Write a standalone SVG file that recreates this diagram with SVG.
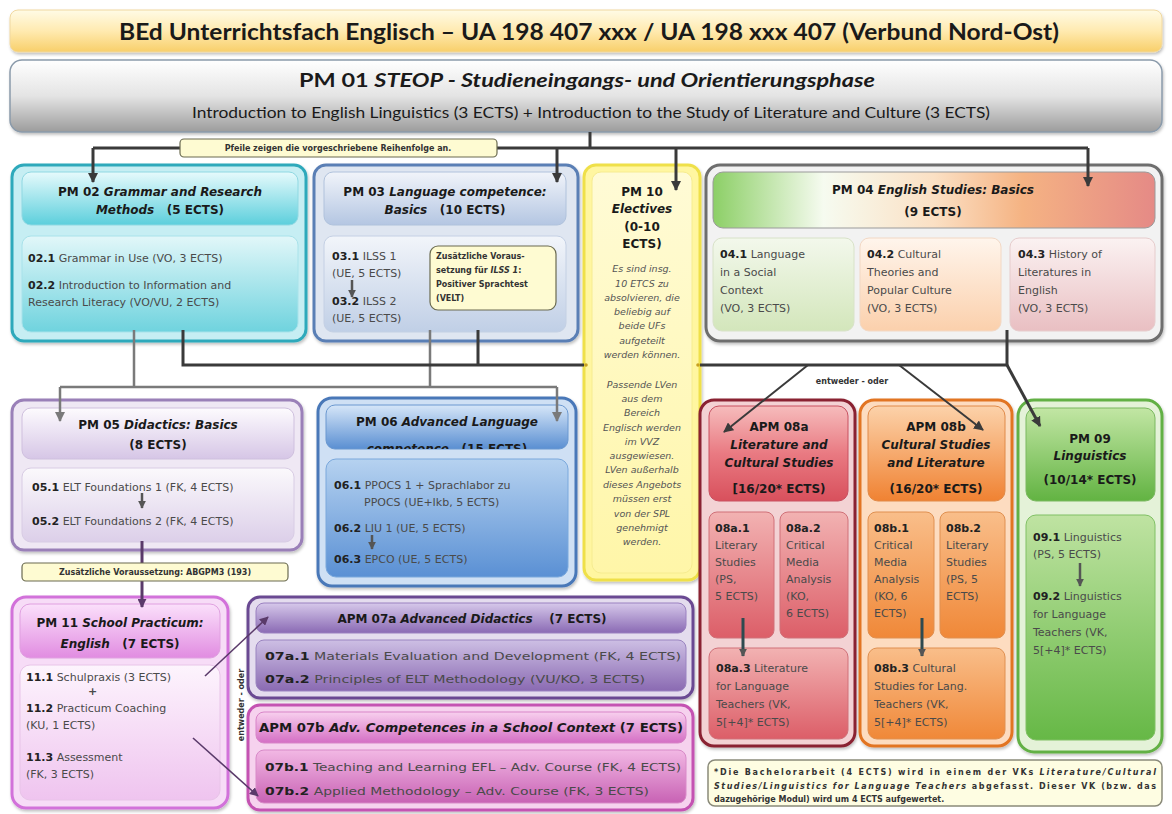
<svg xmlns="http://www.w3.org/2000/svg" width="1172" height="814" viewBox="0 0 1172 814">
<style>
.h{font-family:"DejaVu Sans",Verdana,sans-serif;font-weight:bold;font-size:12px;fill:#1a1a1a;text-anchor:middle;white-space:pre}
.t{font-family:"DejaVu Sans",Verdana,sans-serif;font-size:11px;fill:#4a4a4a}
.b{font-weight:bold;fill:#222}
.i{font-style:italic}
.n{font-family:"DejaVu Sans",Verdana,sans-serif;font-weight:bold;font-size:8px;fill:#333}
.el{font-family:"DejaVu Sans",Verdana,sans-serif;font-style:italic;font-size:9.5px;fill:#555;text-anchor:middle}
.cal{font-family:Lato,"Liberation Sans",sans-serif;fill:#1a1a1a;text-anchor:middle}
.dk{stroke:#3a3a3a;stroke-width:3;fill:none}
.gr{stroke:#7a7a7a;stroke-width:2.5;fill:none}
.sm{stroke:#555;stroke-width:2.5;fill:none}
.pl{stroke:#5a3a6a;stroke-width:1.6;fill:none}
</style>
<defs>
<filter id="sh" x="-5%" y="-5%" width="110%" height="115%"><feDropShadow dx="1" dy="2" stdDeviation="1.5" flood-color="#000" flood-opacity="0.25"/></filter>
<marker id="ad" viewBox="0 0 10 10" refX="9" refY="5" markerWidth="10" markerHeight="10" markerUnits="userSpaceOnUse" orient="auto"><path d="M0,0 L10,5 L0,10 z" fill="#3a3a3a"/></marker>
<marker id="ag" viewBox="0 0 10 10" refX="9" refY="5" markerWidth="10" markerHeight="10" markerUnits="userSpaceOnUse" orient="auto"><path d="M0,0 L10,5 L0,10 z" fill="#7a7a7a"/></marker>
<marker id="as" viewBox="0 0 10 10" refX="9" refY="5" markerWidth="8" markerHeight="8" markerUnits="userSpaceOnUse" orient="auto"><path d="M0,0 L10,5 L0,10 z" fill="#555"/></marker>
<marker id="ap" viewBox="0 0 10 10" refX="9" refY="5" markerWidth="9" markerHeight="9" markerUnits="userSpaceOnUse" orient="auto"><path d="M0,0 L10,5 L0,10 z" fill="#5a3a6a"/></marker>
<linearGradient id="gTitle" x1="0" y1="0" x2="0" y2="1"><stop offset="0" stop-color="#fffbe6"/><stop offset="0.5" stop-color="#ffeab0"/><stop offset="1" stop-color="#f8cf6a"/></linearGradient>
<linearGradient id="gPM01" x1="0" y1="0" x2="0" y2="1"><stop offset="0" stop-color="#ffffff"/><stop offset="0.5" stop-color="#e4e4e4"/><stop offset="1" stop-color="#9c9c9c"/></linearGradient>
<linearGradient id="gCyanH" x1="0" y1="0" x2="0" y2="1"><stop offset="0" stop-color="#e6fafc"/><stop offset="1" stop-color="#5ccfdc"/></linearGradient>
<linearGradient id="gCyanB" x1="0" y1="0" x2="0" y2="1"><stop offset="0" stop-color="#e2f7f9"/><stop offset="1" stop-color="#6fd3de"/></linearGradient>
<linearGradient id="gBlueH" x1="0" y1="0" x2="0" y2="1"><stop offset="0" stop-color="#f1f4fa"/><stop offset="1" stop-color="#b4c6e2"/></linearGradient>
<linearGradient id="gBlueB" x1="0" y1="0" x2="0" y2="1"><stop offset="0" stop-color="#f2f5fa"/><stop offset="1" stop-color="#c0cfe6"/></linearGradient>
<linearGradient id="gYel" x1="0" y1="0" x2="0" y2="1"><stop offset="0" stop-color="#fffbd6"/><stop offset="1" stop-color="#fff6a8"/></linearGradient>
<linearGradient id="gPM04H" x1="0" y1="0" x2="1" y2="0"><stop offset="0" stop-color="#8ccf66"/><stop offset="0.25" stop-color="#f6fbf0"/><stop offset="0.5" stop-color="#fbe0c4"/><stop offset="0.7" stop-color="#f5b383"/><stop offset="1" stop-color="#e58a86"/></linearGradient>
<linearGradient id="g041" x1="0" y1="0" x2="0" y2="1"><stop offset="0" stop-color="#f3f8ec"/><stop offset="1" stop-color="#d3e6bb"/></linearGradient>
<linearGradient id="g042" x1="0" y1="0" x2="0" y2="1"><stop offset="0" stop-color="#fff5ec"/><stop offset="1" stop-color="#fbd0ac"/></linearGradient>
<linearGradient id="g043" x1="0" y1="0" x2="0" y2="1"><stop offset="0" stop-color="#fbf2f2"/><stop offset="1" stop-color="#e9bfc2"/></linearGradient>
<linearGradient id="gLavH" x1="0" y1="0" x2="0" y2="1"><stop offset="0" stop-color="#fdfbfe"/><stop offset="1" stop-color="#d6c6e6"/></linearGradient>
<linearGradient id="gLavB" x1="0" y1="0" x2="0" y2="1"><stop offset="0" stop-color="#fbf9fc"/><stop offset="1" stop-color="#dccfe9"/></linearGradient>
<linearGradient id="gB6H" x1="0" y1="0" x2="0" y2="1"><stop offset="0" stop-color="#d6e6f8"/><stop offset="1" stop-color="#5a8fd2"/></linearGradient>
<linearGradient id="gB6B" x1="0" y1="0" x2="0" y2="1"><stop offset="0" stop-color="#b6d2f0"/><stop offset="1" stop-color="#5a90d4"/></linearGradient>
<linearGradient id="gRedH" x1="0" y1="0" x2="0" y2="1"><stop offset="0" stop-color="#f6bcbc"/><stop offset="0.5" stop-color="#e97a82"/><stop offset="1" stop-color="#d8505c"/></linearGradient>
<linearGradient id="gRedB" x1="0" y1="0" x2="0" y2="1"><stop offset="0" stop-color="#f2b2b2"/><stop offset="1" stop-color="#dc5e68"/></linearGradient>
<linearGradient id="gOrH" x1="0" y1="0" x2="0" y2="1"><stop offset="0" stop-color="#fcd2aa"/><stop offset="1" stop-color="#f08232"/></linearGradient>
<linearGradient id="gOrB" x1="0" y1="0" x2="0" y2="1"><stop offset="0" stop-color="#f9be8a"/><stop offset="1" stop-color="#f08838"/></linearGradient>
<linearGradient id="gGrH" x1="0" y1="0" x2="0" y2="1"><stop offset="0" stop-color="#c2e6a4"/><stop offset="1" stop-color="#62b342"/></linearGradient>
<linearGradient id="gGrB" x1="0" y1="0" x2="0" y2="1"><stop offset="0" stop-color="#bfe3a2"/><stop offset="1" stop-color="#66b846"/></linearGradient>
<linearGradient id="gPkH" x1="0" y1="0" x2="0" y2="1"><stop offset="0" stop-color="#fbe0fb"/><stop offset="1" stop-color="#e18ce1"/></linearGradient>
<linearGradient id="gPkB" x1="0" y1="0" x2="0" y2="1"><stop offset="0" stop-color="#fdf4fd"/><stop offset="1" stop-color="#efc4ef"/></linearGradient>
<linearGradient id="gViH" x1="0" y1="0" x2="0" y2="1"><stop offset="0" stop-color="#d6c8ea"/><stop offset="1" stop-color="#8a6ab4"/></linearGradient>
<linearGradient id="gViB" x1="0" y1="0" x2="0" y2="1"><stop offset="0" stop-color="#cdbfe4"/><stop offset="1" stop-color="#8a6ab2"/></linearGradient>
<linearGradient id="gMgH" x1="0" y1="0" x2="0" y2="1"><stop offset="0" stop-color="#f8d0ee"/><stop offset="1" stop-color="#d46ec4"/></linearGradient>
<linearGradient id="gMgB" x1="0" y1="0" x2="0" y2="1"><stop offset="0" stop-color="#f2b8e4"/><stop offset="1" stop-color="#c862b4"/></linearGradient>
<clipPath id="c06"><rect x="326" y="405" width="242" height="44"/></clipPath>
</defs>

<rect width="1172" height="814" fill="#ffffff"/>

<g id="title">
<rect x="10" y="10" width="1152" height="42" rx="8" fill="url(#gTitle)" stroke="#f0d8a0" stroke-width="1" filter="url(#sh)"/>
<text class="cal" x="589" y="40" font-size="22" font-weight="bold" textLength="940" lengthAdjust="spacingAndGlyphs">BEd Unterrichtsfach Englisch – UA 198 407 xxx / UA 198 xxx 407 (Verbund Nord-Ost)</text>
</g>

<g id="pm01">
<rect x="10" y="60" width="1152" height="72" rx="12" fill="url(#gPM01)" stroke="#8a9aaa" stroke-width="1.5" filter="url(#sh)"/>
<text class="cal" x="587" y="87" font-size="18" font-weight="bold" textLength="576" lengthAdjust="spacingAndGlyphs">PM 01 <tspan font-style="italic">STEOP - Studieneingangs- und Orientierungsphase</tspan></text>
<text class="cal" x="591" y="118" font-size="14.5" fill="#333" textLength="798" lengthAdjust="spacingAndGlyphs">Introduction to English Linguistics (3 ECTS) + Introduction to the Study of Literature and Culture (3 ECTS)</text>
</g>

<g id="pm02">
<rect x="12" y="165" width="294" height="176" rx="12" fill="#c6eef3" stroke="#2fa9bb" stroke-width="3" filter="url(#sh)"/>
<rect x="22" y="172" width="276" height="53" rx="9" fill="url(#gCyanH)" stroke="#8fd8e2" stroke-width="1"/>
<text class="h" x="160" y="196">PM 02 <tspan class="i">Grammar and Research</tspan></text>
<text class="h" x="160" y="214" xml:space="preserve"><tspan class="i">Methods</tspan>   (5 ECTS)</text>
<rect x="22" y="236" width="276" height="96" rx="9" fill="url(#gCyanB)" stroke="#a8e2ea" stroke-width="1"/>
<text class="t" x="28" y="262"><tspan class="b">02.1</tspan> Grammar in Use (VO, 3 ECTS)</text>
<text class="t" x="28" y="289"><tspan class="b">02.2</tspan> Introduction to Information and</text>
<text class="t" x="28" y="306">Research Literacy (VO/VU, 2 ECTS)</text>
</g>

<g id="pm03">
<rect x="314" y="165" width="264" height="176" rx="12" fill="#dfe6f1" stroke="#5a7fb5" stroke-width="3" filter="url(#sh)"/>
<rect x="324" y="172" width="242" height="53" rx="9" fill="url(#gBlueH)" stroke="#b0c2dc" stroke-width="1"/>
<text class="h" x="445" y="196">PM 03 <tspan class="i">Language competence:</tspan></text>
<text class="h" x="445" y="214" xml:space="preserve"><tspan class="i">Basics</tspan>   (10 ECTS)</text>
<rect x="324" y="236" width="242" height="96" rx="9" fill="url(#gBlueB)" stroke="#c4d0e4" stroke-width="1"/>
<text class="t" x="332" y="260"><tspan class="b">03.1</tspan> ILSS 1</text>
<text class="t" x="332" y="277">(UE, 5 ECTS)</text>
<text class="t" x="332" y="305"><tspan class="b">03.2</tspan> ILSS 2</text>
<text class="t" x="332" y="322">(UE, 5 ECTS)</text>
<rect x="430" y="246" width="126" height="64" rx="8" fill="#fefbd2" stroke="#6a6a50" stroke-width="1.2"/>
<text class="n" x="436" y="259">Zusätzliche Voraus-</text>
<text class="n" x="436" y="273">setzung für <tspan class="i">ILSS 1</tspan>:</text>
<text class="n" x="436" y="287">Positiver Sprachtest</text>
<text class="n" x="436" y="301">(VELT)</text>
</g>

<g id="pm04">
<rect x="706" y="165" width="456" height="176" rx="14" fill="#f2f2f2" stroke="#6e6e6e" stroke-width="3" filter="url(#sh)"/>
<rect x="713" y="172" width="442" height="56" rx="10" fill="url(#gPM04H)" stroke="#9a9a9a" stroke-width="1"/>
<text class="h" x="933" y="194">PM 04 <tspan class="i">English Studies: Basics</tspan></text>
<text class="h" x="933" y="216">(9 ECTS)</text>
<rect x="713" y="238" width="141" height="93" rx="9" fill="url(#g041)" stroke="#d8e2c8" stroke-width="1"/>
<text class="t" x="720" y="258"><tspan class="b">04.1</tspan> Language</text>
<text class="t" x="720" y="276">in a Social</text>
<text class="t" x="720" y="294">Context</text>
<text class="t" x="720" y="312">(VO, 3 ECTS)</text>
<rect x="860" y="238" width="141" height="93" rx="9" fill="url(#g042)" stroke="#f2d8c4" stroke-width="1"/>
<text class="t" x="867" y="258"><tspan class="b">04.2</tspan> Cultural</text>
<text class="t" x="867" y="276">Theories and</text>
<text class="t" x="867" y="294">Popular Culture</text>
<text class="t" x="867" y="312">(VO, 3 ECTS)</text>
<rect x="1010" y="238" width="145" height="93" rx="9" fill="url(#g043)" stroke="#e6cccc" stroke-width="1"/>
<text class="t" x="1018" y="258"><tspan class="b">04.3</tspan> History of</text>
<text class="t" x="1018" y="276">Literatures in</text>
<text class="t" x="1018" y="294">English</text>
<text class="t" x="1018" y="312">(VO, 3 ECTS)</text>
</g>

<g id="pm05">
<rect x="12" y="400" width="290" height="150" rx="12" fill="#efe8f4" stroke="#9a80b8" stroke-width="3" filter="url(#sh)"/>
<rect x="22" y="408" width="272" height="51" rx="9" fill="url(#gLavH)" stroke="#cfc0de" stroke-width="1"/>
<text class="h" x="158" y="429">PM 05 <tspan class="i">Didactics: Basics</tspan></text>
<text class="h" x="158" y="449">(8 ECTS)</text>
<rect x="22" y="468" width="272" height="74" rx="9" fill="url(#gLavB)" stroke="#d8cce4" stroke-width="1"/>
<text class="t" x="32" y="491" font-size="11.5"><tspan class="b">05.1</tspan> ELT Foundations 1 (FK, 4 ECTS)</text>
<text class="t" x="32" y="525" font-size="11.5"><tspan class="b">05.2</tspan> ELT Foundations 2 (FK, 4 ECTS)</text>
</g>

<g id="pm06">
<rect x="318" y="398" width="258" height="188" rx="14" fill="#cfe0f4" stroke="#4a78b8" stroke-width="3" filter="url(#sh)"/>
<rect x="326" y="405" width="242" height="44" rx="9" fill="url(#gB6H)" stroke="#6a98d0" stroke-width="1"/>
<g clip-path="url(#c06)">
<text class="h" x="447" y="426">PM 06 <tspan class="i">Advanced Language</tspan></text>
<text class="h" x="447" y="453" xml:space="preserve"><tspan class="i">competence</tspan>   (15 ECTS)</text>
</g>
<rect x="326" y="459" width="242" height="118" rx="10" fill="url(#gB6B)" stroke="#7aa8dc" stroke-width="1"/>
<text class="t" x="334" y="489" fill="#3a4a60"><tspan class="b">06.1</tspan> PPOCS 1 + Sprachlabor zu</text>
<text class="t" x="364" y="506" fill="#3a4a60">PPOCS (UE+Ikb, 5 ECTS)</text>
<text class="t" x="334" y="532" fill="#3a4a60"><tspan class="b">06.2</tspan> LIU 1 (UE, 5 ECTS)</text>
<text class="t" x="334" y="563" fill="#3a4a60"><tspan class="b">06.3</tspan> EPCO (UE, 5 ECTS)</text>
</g>

<g id="pm10">
<rect x="584" y="165" width="116" height="415" rx="12" fill="#fff6a0" stroke="#efe04a" stroke-width="3" filter="url(#sh)"/>
<rect x="592" y="172" width="100" height="401" rx="9" fill="url(#gYel)" stroke="#f6ec90" stroke-width="1"/>
<text class="h" x="642" y="196">PM 10</text>
<text class="h i" x="642" y="213">Electives</text>
<text class="h" x="642" y="231">(0-10</text>
<text class="h" x="642" y="248">ECTS)</text>
<text class="el" x="642" y="272">Es sind insg.</text>
<text class="el" x="642" y="287">10 ETCS zu</text>
<text class="el" x="642" y="301">absolvieren, die</text>
<text class="el" x="642" y="315">beliebig auf</text>
<text class="el" x="642" y="329">beide UFs</text>
<text class="el" x="642" y="344">aufgeteilt</text>
<text class="el" x="642" y="358">werden können.</text>
<text class="el" x="642" y="388">Passende LVen</text>
<text class="el" x="642" y="402">aus dem</text>
<text class="el" x="642" y="416">Bereich</text>
<text class="el" x="642" y="431">Englisch werden</text>
<text class="el" x="642" y="445">im VVZ</text>
<text class="el" x="642" y="459">ausgewiesen.</text>
<text class="el" x="642" y="473">LVen außerhalb</text>
<text class="el" x="642" y="488">dieses Angebots</text>
<text class="el" x="642" y="502">müssen erst</text>
<text class="el" x="642" y="517">von der SPL</text>
<text class="el" x="642" y="531">genehmigt</text>
<text class="el" x="642" y="545">werden.</text>
</g>

<g id="apm08a">
<rect x="700" y="400" width="155" height="346" rx="14" fill="#f3d2d4" stroke="#8a2232" stroke-width="3" filter="url(#sh)"/>
<rect x="709" y="406" width="139" height="95" rx="10" fill="url(#gRedH)" stroke="#c85060" stroke-width="1"/>
<text class="h" x="779" y="431">APM 08a</text>
<text class="h i" x="779" y="449">Literature and</text>
<text class="h i" x="779" y="467">Cultural Studies</text>
<text class="h" x="779" y="493">[16/20* ECTS)</text>
<rect x="709" y="512" width="65" height="126" rx="8" fill="url(#gRedB)" stroke="#d07078" stroke-width="1"/>
<text class="t" x="715" y="532" fill="#6a2a30"><tspan class="b">08a.1</tspan></text>
<text class="t" x="715" y="549" fill="#6a2a30">Literary</text>
<text class="t" x="715" y="566" fill="#6a2a30">Studies</text>
<text class="t" x="715" y="583" fill="#6a2a30">(PS,</text>
<text class="t" x="715" y="600" fill="#6a2a30">5 ECTS)</text>
<rect x="780" y="512" width="68" height="126" rx="8" fill="url(#gRedB)" stroke="#d07078" stroke-width="1"/>
<text class="t" x="786" y="532" fill="#6a2a30"><tspan class="b">08a.2</tspan></text>
<text class="t" x="786" y="549" fill="#6a2a30">Critical</text>
<text class="t" x="786" y="566" fill="#6a2a30">Media</text>
<text class="t" x="786" y="583" fill="#6a2a30">Analysis</text>
<text class="t" x="786" y="600" fill="#6a2a30">(KO,</text>
<text class="t" x="786" y="617" fill="#6a2a30">6 ECTS)</text>
<rect x="709" y="648" width="139" height="91" rx="9" fill="url(#gRedB)" stroke="#d07078" stroke-width="1"/>
<text class="t" x="716" y="672" fill="#6a2a30"><tspan class="b">08a.3</tspan> Literature</text>
<text class="t" x="716" y="690" fill="#6a2a30">for Language</text>
<text class="t" x="716" y="708" fill="#6a2a30">Teachers (VK,</text>
<text class="t" x="716" y="726" fill="#6a2a30">5[+4]* ECTS)</text>
</g>

<g id="apm08b">
<rect x="860" y="400" width="152" height="346" rx="14" fill="#fddcc0" stroke="#e27424" stroke-width="3" filter="url(#sh)"/>
<rect x="868" y="406" width="137" height="95" rx="10" fill="url(#gOrH)" stroke="#e08a48" stroke-width="1"/>
<text class="h" x="936" y="431">APM 08b</text>
<text class="h i" x="936" y="449">Cultural Studies</text>
<text class="h i" x="936" y="467">and Literature</text>
<text class="h" x="936" y="493">(16/20* ECTS)</text>
<rect x="868" y="512" width="66" height="126" rx="8" fill="url(#gOrB)" stroke="#e09050" stroke-width="1"/>
<text class="t" x="874" y="532" fill="#5a2a10"><tspan class="b">08b.1</tspan></text>
<text class="t" x="874" y="549" fill="#5a2a10">Critical</text>
<text class="t" x="874" y="566" fill="#5a2a10">Media</text>
<text class="t" x="874" y="583" fill="#5a2a10">Analysis</text>
<text class="t" x="874" y="600" fill="#5a2a10">(KO, 6</text>
<text class="t" x="874" y="617" fill="#5a2a10">ECTS)</text>
<rect x="940" y="512" width="65" height="126" rx="8" fill="url(#gOrB)" stroke="#e09050" stroke-width="1"/>
<text class="t" x="946" y="532" fill="#5a2a10"><tspan class="b">08b.2</tspan></text>
<text class="t" x="946" y="549" fill="#5a2a10">Literary</text>
<text class="t" x="946" y="566" fill="#5a2a10">Studies</text>
<text class="t" x="946" y="583" fill="#5a2a10">(PS, 5</text>
<text class="t" x="946" y="600" fill="#5a2a10">ECTS)</text>
<rect x="868" y="648" width="137" height="91" rx="9" fill="url(#gOrB)" stroke="#e09050" stroke-width="1"/>
<text class="t" x="874" y="672" fill="#5a2a10"><tspan class="b">08b.3</tspan> Cultural</text>
<text class="t" x="874" y="690" fill="#5a2a10">Studies for Lang.</text>
<text class="t" x="874" y="708" fill="#5a2a10">Teachers (VK,</text>
<text class="t" x="874" y="726" fill="#5a2a10">5[+4]* ECTS)</text>
</g>

<g id="pm09">
<rect x="1018" y="400" width="144" height="352" rx="16" fill="#e4f2d8" stroke="#62b044" stroke-width="3" filter="url(#sh)"/>
<rect x="1026" y="408" width="129" height="93" rx="10" fill="url(#gGrH)" stroke="#7ab860" stroke-width="1"/>
<text class="h" x="1090" y="443">PM 09</text>
<text class="h i" x="1090" y="460">Linguistics</text>
<text class="h" x="1090" y="484">(10/14* ECTS)</text>
<rect x="1026" y="515" width="129" height="225" rx="10" fill="url(#gGrB)" stroke="#80c064" stroke-width="1"/>
<text class="t" x="1033" y="541" fill="#2e4a22"><tspan class="b">09.1</tspan> Linguistics</text>
<text class="t" x="1033" y="558" fill="#2e4a22">(PS, 5 ECTS)</text>
<text class="t" x="1033" y="600" fill="#2e4a22"><tspan class="b">09.2</tspan> Linguistics</text>
<text class="t" x="1033" y="618" fill="#2e4a22">for Language</text>
<text class="t" x="1033" y="636" fill="#2e4a22">Teachers (VK,</text>
<text class="t" x="1033" y="654" fill="#2e4a22">5[+4]* ECTS)</text>
</g>

<g id="pm11">
<rect x="12" y="597" width="216" height="211" rx="14" fill="#f7dcf7" stroke="#d272da" stroke-width="3" filter="url(#sh)"/>
<rect x="20" y="604" width="200" height="54" rx="10" fill="url(#gPkH)" stroke="#e0a0e0" stroke-width="1"/>
<text class="h" x="120" y="627">PM 11 <tspan class="i">School Practicum:</tspan></text>
<text class="h" x="120" y="648" xml:space="preserve"><tspan class="i">English</tspan>   (7 ECTS)</text>
<rect x="20" y="665" width="200" height="135" rx="10" fill="url(#gPkB)" stroke="#e8c4e8" stroke-width="1"/>
<text class="t" x="26" y="681"><tspan class="b">11.1</tspan> Schulpraxis (3 ECTS)</text>
<text class="t" x="88" y="695" font-weight="bold">+</text>
<text class="t" x="26" y="712"><tspan class="b">11.2</tspan> Practicum Coaching</text>
<text class="t" x="26" y="729">(KU, 1 ECTS)</text>
<text class="t" x="26" y="761"><tspan class="b">11.3</tspan> Assessment</text>
<text class="t" x="26" y="778">(FK, 3 ECTS)</text>
</g>

<g id="apm07a">
<rect x="248" y="597" width="445" height="101" rx="12" fill="#e4dcee" stroke="#6a4a92" stroke-width="3" filter="url(#sh)"/>
<rect x="256" y="603" width="430" height="30" rx="8" fill="url(#gViH)" stroke="#9a80c0" stroke-width="1"/>
<text class="h" x="472" y="623" xml:space="preserve">APM 07a <tspan class="i">Advanced Didactics</tspan>    (7 ECTS)</text>
<rect x="256" y="640" width="430" height="51" rx="8" fill="url(#gViB)" stroke="#9a84c0" stroke-width="1"/>
<text class="t" x="265" y="660" fill="#3a2a50" textLength="416" lengthAdjust="spacingAndGlyphs"><tspan class="b">07a.1</tspan> Materials Evaluation and Development (FK, 4 ECTS)</text>
<text class="t" x="265" y="683" fill="#3a2a50" textLength="380" lengthAdjust="spacingAndGlyphs"><tspan class="b">07a.2</tspan> Principles of ELT Methodology (VU/KO, 3 ECTS)</text>
</g>

<g id="apm07b">
<rect x="248" y="705" width="445" height="105" rx="12" fill="#f6d2ee" stroke="#c452b2" stroke-width="3" filter="url(#sh)"/>
<rect x="256" y="712" width="430" height="31" rx="8" fill="url(#gMgH)" stroke="#d884c8" stroke-width="1"/>
<text class="h" x="471" y="732" textLength="424" lengthAdjust="spacingAndGlyphs">APM 07b <tspan class="i">Adv. Competences in a School Context</tspan> (7 ECTS)</text>
<rect x="256" y="750" width="430" height="53" rx="8" fill="url(#gMgB)" stroke="#d88ac8" stroke-width="1"/>
<text class="t" x="265" y="771" fill="#4a2040" textLength="416" lengthAdjust="spacingAndGlyphs"><tspan class="b">07b.1</tspan> Teaching and Learning EFL – Adv. Course (FK, 4 ECTS)</text>
<text class="t" x="265" y="795" fill="#4a2040" textLength="384" lengthAdjust="spacingAndGlyphs"><tspan class="b">07b.2</tspan> Applied Methodology – Adv. Course (FK, 3 ECTS)</text>
</g>

<g id="footnote">
<rect x="708" y="760" width="454" height="46" rx="7" fill="#fefde2" stroke="#8a8a7a" stroke-width="1.5"/>
<text class="n" x="714" y="775" font-size="8.5" textLength="442" lengthAdjust="spacing">*Die Bachelorarbeit (4 ECTS) wird in einem der VKs <tspan class="i">Literature/Cultural</tspan></text>
<text class="n" x="714" y="789" font-size="8.5" textLength="442" lengthAdjust="spacing"><tspan class="i">Studies/Linguistics for Language Teachers</tspan> abgefasst. Dieser VK (bzw. das</text>
<text class="n" x="714" y="802" font-size="8.5">dazugehörige Modul) wird um 4 ECTS aufgewertet.</text>
</g>

<g id="connectors">
<path class="dk" d="M590,132 V148"/>
<path class="dk" d="M93,148 H1088"/>
<path class="dk" d="M93,148 V182" marker-end="url(#ad)"/>
<path class="dk" d="M557,148 V182" marker-end="url(#ad)"/>
<path class="dk" d="M676,148 V190" marker-end="url(#ad)"/>
<path class="dk" d="M1088,148 V186" marker-end="url(#ad)"/>
<path class="gr" d="M134,330 V387 M430,330 V387 M60,387 H557"/>
<path class="gr" d="M60,387 V421" marker-end="url(#ag)"/>
<path class="gr" d="M557,387 V421" marker-end="url(#ag)"/>
<path class="dk" d="M183,330 V365 H584 M478,330 V365 M700,365 H1007 V330"/>
<circle cx="586" cy="365" r="1.8" fill="#c8a020"/>
<circle cx="698" cy="365" r="1.8" fill="#c8a020"/>
<path class="dk" d="M1007,365 L1040,426" marker-end="url(#ad)"/>
<path d="M808,365 L724,432" stroke="#3a3a3a" stroke-width="2" fill="none" marker-end="url(#ad)"/>
<path d="M899,365 L983,430" stroke="#3a3a3a" stroke-width="2" fill="none" marker-end="url(#ad)"/>
<text class="n" x="852" y="384" font-size="9.5" text-anchor="middle">entweder - oder</text>
<path class="sm" d="M352,280 V297" marker-end="url(#as)"/>
<path class="sm" d="M142,493 V508" marker-end="url(#as)"/>
<path class="sm" d="M372,535 V549" marker-end="url(#as)"/>
<path d="M743,618 V656" stroke="#2e4a50" stroke-width="3" fill="none" marker-end="url(#as)"/>
<path d="M922,618 V656" stroke="#2e4a50" stroke-width="3" fill="none" marker-end="url(#as)"/>
<path class="sm" d="M1080,563 V586" marker-end="url(#as)"/>
<path d="M142,541 V563" stroke="#5a3a6a" stroke-width="3" fill="none"/>
<path d="M142,581 V607" stroke="#5a3a6a" stroke-width="3" fill="none" marker-end="url(#ap)"/>
<path class="pl" d="M205,676 L268,617" marker-end="url(#ap)"/>
<path class="pl" d="M193,738 L258,796" marker-end="url(#ap)"/>
<text class="n" transform="translate(244,705) rotate(-90)" font-size="9.5" text-anchor="middle">entweder - oder</text>
</g>

<g id="notes">
<rect x="180" y="139" width="317" height="18" rx="4" fill="#fefbd2" stroke="#6a6a50" stroke-width="1.2"/>
<text class="n" x="338" y="151" text-anchor="middle">Pfeile zeigen die vorgeschriebene Reihenfolge an.</text>
<rect x="22" y="563" width="266" height="18" rx="4" fill="#fefbd2" stroke="#6a6a50" stroke-width="1.2"/>
<text class="n" x="155" y="575" text-anchor="middle">Zusätzliche Voraussetzung: ABGPM3 (193)</text>
</g>
</svg>
